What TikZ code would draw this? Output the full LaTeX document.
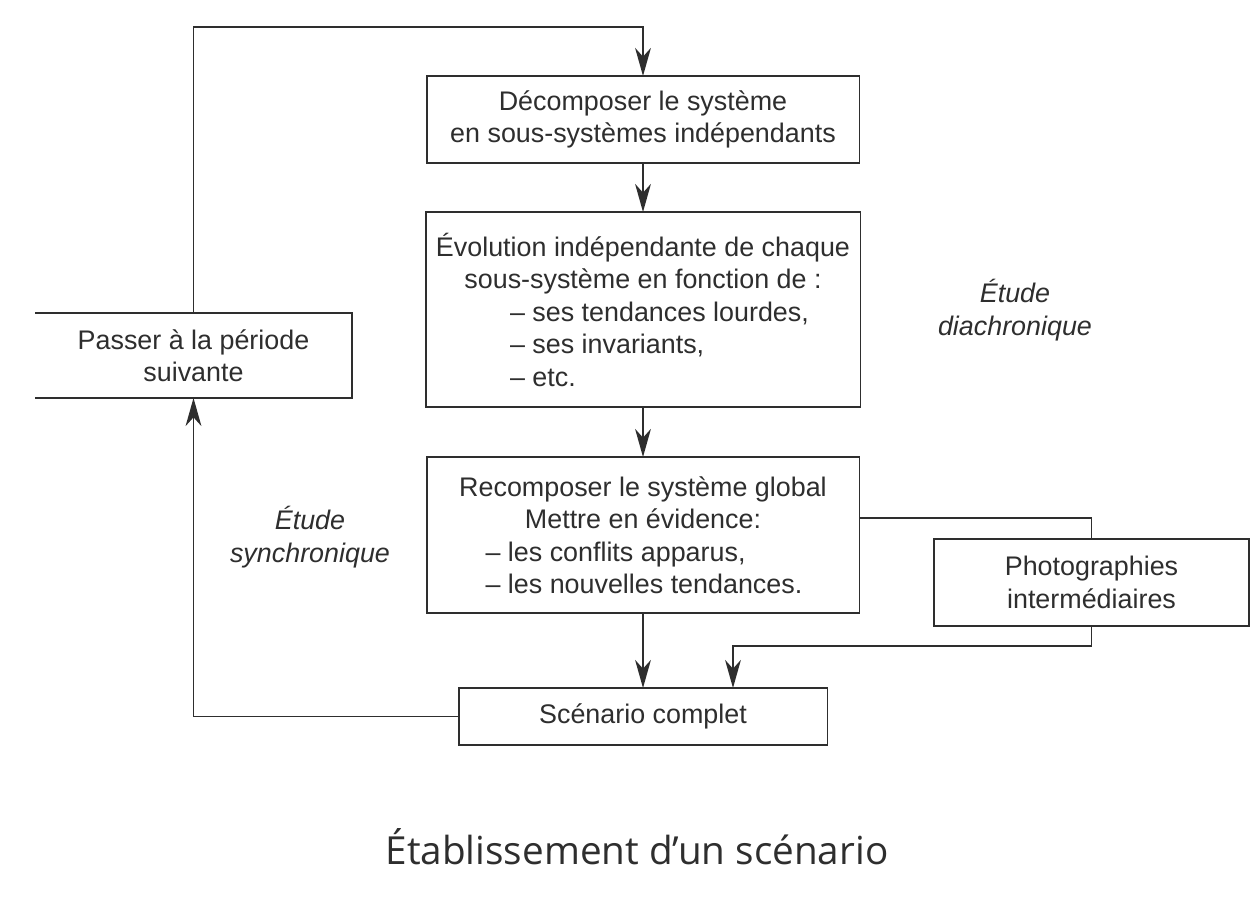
\documentclass[tikz,border=0pt]{standalone}
\usepackage{fontspec}
\setmainfont{Liberation Sans}
\newfontfamily\titlefont{Open Sans}
\usetikzlibrary{arrows.meta}
\definecolor{ink}{HTML}{2E2E2E}
\begin{document}
\begin{tikzpicture}[x=0.02cm,y=-0.02cm,
  box/.style={draw=ink, line width=1.1pt, inner sep=0pt, outer sep=0pt, align=center, text=ink,
    font=\fontsize{15.3}{18.5}\selectfont},
  conn/.style={draw=ink, line width=1.1pt},
  arr/.style={conn, -{Stealth[length=16pt,width=9pt,inset=5pt]}},
  lbl/.style={text=ink, align=center, font=\fontsize{15.3}{18.5}\selectfont\itshape},
  ttl/.style={text=ink, font=\titlefont\fontsize{22}{26}\selectfont}]
\useasboundingbox[fill=white] (0,0) rectangle (1254,901);

\node[box, minimum width=8.66cm, minimum height=1.74cm] (dec) at (643,119.5)
  {Décomposer le système\\en sous-systèmes indépendants};
\node[box, minimum width=8.70cm, minimum height=3.90cm] (evo) at (643,309.5)
  {Évolution indépendante de chaque\\
   sous-système en fonction de :\\
   \makebox[5.32cm][l]{– ses tendances lourdes,}\\
   \makebox[5.32cm][l]{– ses invariants,}\\
   \makebox[5.32cm][l]{– etc.}};
\node[box, minimum width=8.66cm, minimum height=3.12cm] (rec) at (643,535)
  {Recomposer le système global\\
   Mettre en évidence:\\
   \makebox[6.30cm][l]{– les conflits apparus,}\\
   \makebox[6.30cm][l]{– les nouvelles tendances.}};
\node[box, minimum width=6.30cm, minimum height=1.74cm] (photo) at (1091.5,582.5)
  {Photographies\\intermédiaires};
\node[box, minimum width=7.38cm, minimum height=1.14cm] (scen) at (643,716.5)
  {Scénario complet};
\node[box, draw=none, minimum width=6.34cm, minimum height=1.70cm] (passer) at (193.5,355.5)
  {Passer à la période\\suivante};
\draw[conn] (passer.north west) -- (passer.north east) -- (passer.south east) -- (passer.south west);

\node[lbl] (diachro) at (1015,310) {Étude\\diachronique};
\node[lbl] (synchro) at (310,537) {Étude\\synchronique};

\node[ttl] (title) at (637,847) {Établissement d’un scénario};

\draw[arr] (passer.north) -- ++(0,-286) -| (dec.north);
\draw[arr] (dec.south) -- (evo.north);
\draw[arr] (evo.south) -- (rec.north);
\draw[conn] ([yshift=0.34cm]rec.east) -| (photo.north);
\draw[arr] (rec.south) -- (scen.north);
\draw[arr] (photo.south) -- ++(0,20) -| ([xshift=1.8cm]scen.north);
\draw[arr] (scen.west) -| (passer.south);
\end{tikzpicture}
\end{document}
